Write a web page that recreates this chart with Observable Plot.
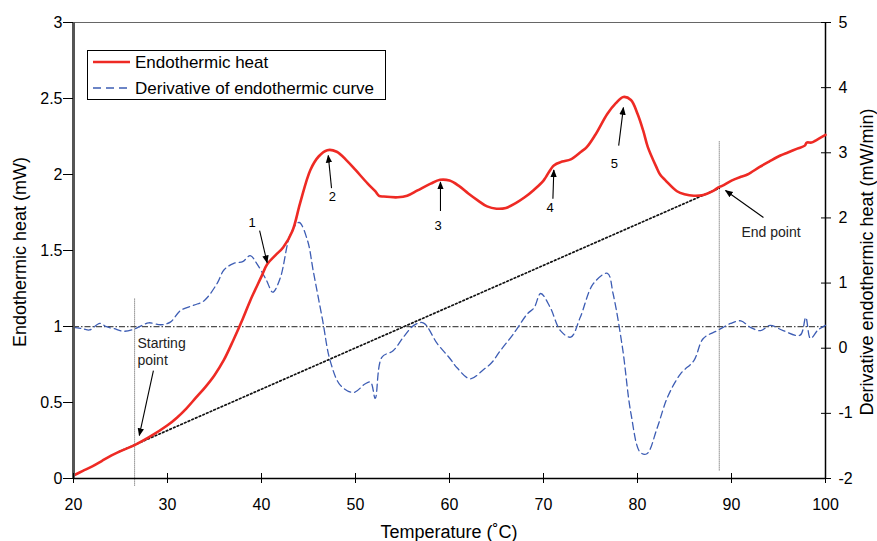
<!DOCTYPE html>
<html><head><meta charset="utf-8">
<script src="https://cdn.jsdelivr.net/npm/d3@7"></script>
<script src="https://cdn.jsdelivr.net/npm/@observablehq/plot@0.6"></script>
<style>body{margin:0;background:#fff} #chart svg{display:block}</style>
</head><body><div id="chart"></div>
<script>
// ---- data ----
const heatT = [20,21,22,23,24,25,26.5,28,30,31,32,33,34,35,36,37,38,38.8,40,40.6,41.5,42.3,43.3,44.1,45.2,46.1,47,48,49.1,50,51.3,52.1,52.5,53,54.5,55.5,56.6,58,59,60,61,62,63,64,65,66,67,68,69,70,71.1,72,72.9,74,74.6,75.5,76.8,77.7,78.5,79.3,80,80.6,81.1,82,82.4,83,84.2,85,86,87,88,88.6,89,90,91,91.7,93,94,95.2,96,97,97.8,98,98.5,99,100];
const heatV = [0.02,0.05,0.08,0.115,0.15,0.18,0.22,0.27,0.35,0.40,0.46,0.53,0.60,0.68,0.78,0.91,1.05,1.17,1.33,1.41,1.47,1.52,1.63,1.81,2.03,2.12,2.16,2.15,2.09,2.03,1.94,1.89,1.86,1.855,1.85,1.86,1.895,1.94,1.965,1.96,1.925,1.875,1.83,1.79,1.775,1.78,1.81,1.85,1.9,1.96,2.06,2.085,2.10,2.15,2.18,2.26,2.40,2.47,2.51,2.49,2.40,2.29,2.18,2.05,2.00,1.96,1.89,1.87,1.86,1.865,1.89,1.915,1.925,1.96,1.985,2.0,2.05,2.085,2.125,2.145,2.17,2.19,2.21,2.21,2.225,2.26];
const derivT = [20,21,21.7,22.8,23.5,24.3,25.3,26.4,27.3,28,29.3,30.3,31.4,32.8,33.9,35.3,36,37,38,38.8,39.5,40.5,41.2,42,43.1,44,44.9,45.5,46.5,47.3,48.4,49.8,51,51.6,52.1,52.8,54,55.1,56.2,57.2,58.7,60,60.8,62.2,63.6,64.5,65.4,66.8,68.3,69,69.7,70.7,71.8,72.9,73.9,75.3,76.8,77.4,78.4,79.3,80.3,81,82.1,83.2,84.6,86,87,88.5,89.9,91,92,93.1,94.1,95.5,97.3,97.9,98.4,99.2,100];
const derivV = [0.32,0.30,0.28,0.38,0.33,0.30,0.26,0.29,0.35,0.39,0.36,0.40,0.58,0.66,0.73,1.0,1.2,1.30,1.33,1.42,1.30,1.05,0.86,1.08,1.76,1.93,1.65,1.19,0.43,-0.19,-0.57,-0.68,-0.55,-0.52,-0.77,-0.14,-0.04,0.17,0.35,0.39,0.07,-0.15,-0.30,-0.47,-0.33,-0.22,-0.04,0.22,0.53,0.62,0.84,0.63,0.27,0.17,0.47,0.99,1.15,0.84,0.01,-1.0,-1.6,-1.62,-1.22,-0.75,-0.39,-0.19,0.15,0.27,0.38,0.42,0.32,0.27,0.35,0.27,0.20,0.47,0.15,0.28,0.35];
const baselineT = [24.8, 88.7];
const baselineV = [0.175, 1.91];
const derivZero = 0.33;          // derivative level of the dash-dot line
const startT = 26.5, endT = 88.7;
const peakLabels = ["1","2","3","4","5"];
const peakLabelT = [39.0, 47.55, 58.8, 70.7, 77.55];
const peakLabelV = [1.68, 1.85, 1.66, 1.78, 2.07];
const arrowTailT = [39.8, 47.45, 59.04, 71.0, 78.0, 93.4, 28.5];
const arrowTailV = [1.63, 1.91, 1.76, 1.84, 2.19, 1.717, 0.71];
const arrowHeadT = [40.6, 47.1, 59.04, 71.1, 78.5, 89.36, 27.0];
const arrowHeadV = [1.42, 2.125, 1.95, 2.03, 2.44, 1.895, 0.283];
const endNote = "End point", endNoteT = 94.2, endNoteV = 1.62;
const startNote = "Starting\npoint", startNoteT = 26.8, startNoteV = 0.839;
const xTicks = [20,30,40,50,60,70,80,90,100];
const yLeftTicks = [0,0.5,1,1.5,2,2.5,3];
const yRightTicks = [-2,-1,0,1,2,3,4,5];
const seriesNames = ["Endothermic heat", "Derivative of endothermic curve"];
const xTitle = "Temperature (˚C)";
const yLeftTitle = "Endothermic heat (mW)";
const yRightTitle = "Derivative endothermic heat (mW/min)";

const leftDom = [0, 3], rightDom = [-2, 5];
const toLeft = d => leftDom[0] + (d - rightDom[0]) * (leftDom[1]-leftDom[0])/(rightDom[1]-rightDom[0]);
const fromLeft = v => rightDom[0] + (v - leftDom[0]) * (rightDom[1]-rightDom[0])/(leftDom[1]-leftDom[0]);

const heat = heatT.map((t,i)=>({t, v: heatV[i]}));
const deriv = derivT.map((t,i)=>({t, v: toLeft(derivV[i])}));
const baseline = baselineT.map((t,i)=>({t, v: baselineV[i]}));
const peaks = peakLabels.map((s,i)=>({s, t: peakLabelT[i], v: peakLabelV[i]}));
const arrows = arrowTailT.map((t,i)=>({x1:t, y1: arrowTailV[i], x2: arrowHeadT[i], y2: arrowHeadV[i]}));

const RED = "#ee2a24", BLUE = "#3d5db4";
const FONT = "'Liberation Sans', Arial, Helvetica, sans-serif";

const chart = Plot.plot({
  width: 877, height: 541,
  marginLeft: 73, marginRight: 52, marginTop: 22, marginBottom: 63,
  x: {domain: [20, 100], label: null},
  y: {domain: leftDom, label: null},
  style: {fontFamily: FONT, fontSize: "16px", color: "#000", background: "#fff"},
  marks: [
    // frame
    Plot.ruleY([leftDom[1]], {stroke: "#666", strokeWidth: 1.2}),
    Plot.ruleX([100], {stroke: "#000", strokeWidth: 1.5}),
    // reference lines
    Plot.ruleY([toLeft(derivZero)], {x1: 20, x2: 100, stroke: "#222", strokeWidth: 1, strokeDasharray: "6,2,1.5,2"}),
    Plot.ruleX([startT], {y1: -0.05, y2: 1.18, stroke: "#555", strokeWidth: 1, strokeDasharray: "1,1"}),
    Plot.ruleX([endT], {y1: 0.05, y2: 2.22, stroke: "#555", strokeWidth: 1, strokeDasharray: "1,1"}),
    Plot.line(baseline, {x: "t", y: "v", stroke: "#111", strokeWidth: 1.7, strokeDasharray: "1.6,2.4"}),
    // series
    Plot.line(deriv, {x: "t", y: "v", stroke: BLUE, strokeWidth: 1.3, strokeDasharray: "7,4", curve: "catmull-rom"}),
    Plot.line(heat, {x: "t", y: "v", stroke: RED, strokeWidth: 2.6, curve: "catmull-rom"}),
    // axes
    Plot.ruleY([leftDom[0]], {stroke: "#000", strokeWidth: 1.5}),
    Plot.ruleX([20], {stroke: "#555", strokeWidth: 3}),
    Plot.axisX({ticks: xTicks, tickFormat: d => String(d), dy: -5, tickSize: 10, tickPadding: 15, label: null, fontSize: 16}),
    Plot.axisY({ticks: yLeftTicks, tickFormat: d => String(d), tickSize: 10, tickPadding: 1, label: null, fontSize: 16}),
    Plot.axisY({anchor: "right", ticks: yRightTicks.map(toLeft), tickFormat: v => String(Math.round(fromLeft(v))), dx: -5, tickSize: 10, tickPadding: 8, label: null, fontSize: 16}),
    // annotations
    Plot.link(arrows, {x1: "x1", y1: "y1", x2: "x2", y2: "y2", stroke: "#000", strokeWidth: 1.1, className: "ann-arrow"}),
    Plot.text(peaks, {x: "t", y: "v", text: "s", fontSize: 13, fill: "#000"}),
    Plot.text([endNote], {x: endNoteT, y: endNoteV, text: d => d, fontSize: 14, fill: "#222", textAnchor: "middle"}),
    Plot.text([startNote], {x: startNoteT, y: startNoteV, text: d => d, fontSize: 14, fill: "#222", textAnchor: "start", lineHeight: 1.2})
  ]
});

const svg = d3.select(chart);
// arrow heads
const defs = svg.append("defs");
defs.append("marker").attr("id", "ahead").attr("viewBox", "0 0 10 10").attr("refX", 9).attr("refY", 5)
  .attr("markerWidth", 8).attr("markerHeight", 8).attr("markerUnits", "userSpaceOnUse").attr("orient", "auto")
  .append("path").attr("d", "M0,1 L10,5 L0,9 Z").attr("fill", "#000");
svg.selectAll(".ann-arrow path").attr("marker-end", "url(#ahead)");

// axis titles
svg.append("text").attr("x", 449).attr("y", 538).attr("text-anchor", "middle")
  .style("font-family", FONT).style("font-size", "18px").attr("fill", "#000").text(xTitle);
svg.append("text").attr("transform", "translate(26,252) rotate(-90)").attr("text-anchor", "middle")
  .style("font-family", FONT).style("font-size", "18px").attr("fill", "#000").text(yLeftTitle);
svg.append("text").attr("transform", "translate(873,262) rotate(-90)").attr("text-anchor", "middle")
  .style("font-family", FONT).style("font-size", "18px").attr("fill", "#000").text(yRightTitle);

// legend
const lg = svg.append("g");
lg.append("rect").attr("x", 87.5).attr("y", 50.5).attr("width", 298).attr("height", 49)
  .attr("fill", "#fff").attr("stroke", "#000").attr("stroke-width", 1);
const legendStyles = [{stroke: RED, w: 2.6, dash: "none"}, {stroke: BLUE, w: 1.6, dash: "8,5"}];
seriesNames.forEach((name, i) => {
  const y = 62 + i * 26;
  lg.append("line").attr("x1", 93).attr("x2", 130).attr("y1", y).attr("y2", y)
    .attr("stroke", legendStyles[i].stroke).attr("stroke-width", legendStyles[i].w)
    .attr("stroke-dasharray", legendStyles[i].dash);
  lg.append("text").attr("x", 135).attr("y", y + 6).attr("text-anchor", "start")
    .style("font-family", FONT).style("font-size", "17px").attr("fill", "#000").text(name);
});

document.getElementById("chart").append(chart);
</script>
</body></html>
